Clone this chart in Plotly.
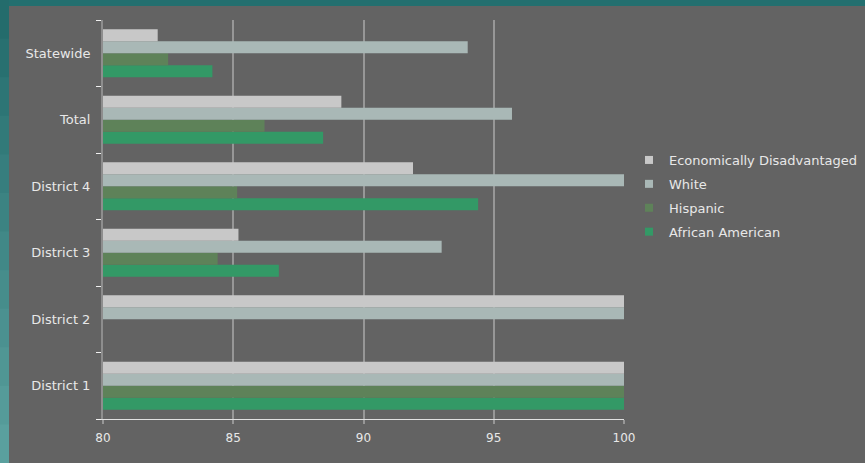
import plotly.graph_objects as go

categories = ["District 1", "District 2", "District 3", "District 4", "Total", "Statewide"]
econ = [100, 100, 85.2, 91.9, 89.15, 82.1]
white = [100, 100, 93.0, 100, 95.7, 94.0]
hispanic = [100, None, 84.4, 85.15, 86.2, 82.5]
african_american = [100, None, 86.75, 94.4, 88.45, 84.2]
x_ticks = [80, 85, 90, 95, 100]

series = [
    ("African American", african_american, "#339966", 4),
    ("Hispanic", hispanic, "#5e8259", 3),
    ("White", white, "#a9b8b6", 2),
    ("Economically Disadvantaged", econ, "#c8c8c8", 1),
]

fig = go.Figure()
for name, vals, color, rank in series:
    fig.add_trace(go.Bar(
        y=categories, x=vals, name=name, orientation="h",
        marker=dict(color=color, line=dict(width=0)),
        showlegend=False, legendgroup=name,
    ))
for name, vals, color, rank in series:
    fig.add_trace(go.Scatter(
        x=[None], y=[None], mode="markers", name=name,
        marker=dict(symbol="square", size=8, color=color),
        legendgroup=name, legendrank=rank, showlegend=True,
    ))

W, H = 865, 463
L, R, T, B = 103, 241, 20, 44
pw, ph = W - L - R, H - T - B

def px2x(px):
    return (px - L) / pw

def py2y(py):
    return (H - B - py) / ph

shapes = []
steps = 12
for i in range(steps):
    t = i / (steps - 1)
    r = int(0x24 + (0x5a - 0x24) * t)
    g = int(0x6c + (0xa0 - 0x6c) * t)
    b = int(0x6c + (0x9e - 0x6c) * t)
    shapes.append(dict(type="rect", xref="paper", yref="paper", layer="below",
                       x0=px2x(-2), x1=px2x(9), y0=py2y(H * (i + 1) / steps + 1), y1=py2y(H * i / steps),
                       fillcolor=f"rgb({r},{g},{b})", line=dict(width=0)))
shapes.append(dict(type="rect", xref="paper", yref="paper", layer="below",
                   x0=px2x(9), x1=px2x(W + 2), y0=py2y(H + 2), y1=py2y(6),
                   fillcolor="#636363", line=dict(width=0)))

FONT = "DejaVu Sans, Verdana, sans-serif"
fig.update_layout(
    width=W, height=H,
    margin=dict(l=L, r=R, t=T, b=B, autoexpand=False),
    paper_bgcolor="#236f6f",
    plot_bgcolor="#636363",
    barmode="group",
    bargap=0.28,
    bargroupgap=0,
    font=dict(family=FONT, size=13, color="#e8e8e8"),
    shapes=shapes,
    showlegend=True,
    legend=dict(traceorder="grouped", x=px2x(629), y=py2y(145), xanchor="left", yanchor="top",
                bgcolor="rgba(0,0,0,0)", font=dict(family=FONT, size=13, color="#e8e8e8"),
                itemwidth=30, tracegroupgap=4),
    xaxis=dict(
        range=[80, 100], tickmode="array", tickvals=x_ticks,
        ticktext=[str(v) for v in x_ticks],
        showgrid=True, gridcolor="#979797", gridwidth=2,
        zeroline=False, showline=True, linecolor="#e0e0e0", linewidth=1,
        ticks="outside", ticklen=4, tickcolor="#979797", tickwidth=2,
        tickfont=dict(family=FONT, size=12, color="#e8e8e8"), ticklabelstandoff=4,
        fixedrange=True,
    ),
    yaxis=dict(
        categoryorder="array", categoryarray=categories,
        showgrid=False, showline=True, linecolor="#8e8e8e", linewidth=2,
        ticks="outside", tickson="boundaries", ticklen=5, tickcolor="#f0f0f0", tickwidth=1,
        tickfont=dict(family=FONT, size=13, color="#e8e8e8"), ticklabelstandoff=8,
        fixedrange=True,
    ),
)

fig.write_html("out.html", config={"displayModeBar": False},
               post_script="document.body.style.margin='0';document.body.style.overflow='hidden';")
